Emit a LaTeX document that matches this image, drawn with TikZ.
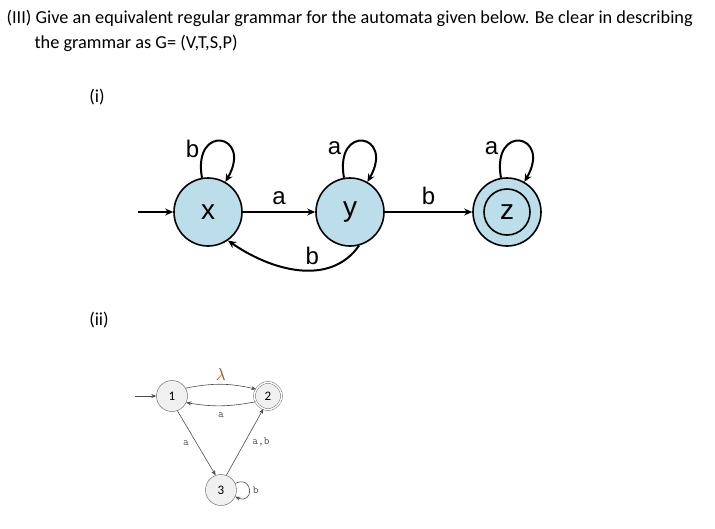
\documentclass[tikz,border=0pt]{standalone}
\usepackage{fontspec}
\setmainfont{Carlito}
\newfontfamily\arialf{Liberation Sans}
\usetikzlibrary{arrows.meta}
\begin{document}
\begin{tikzpicture}[x=1pt,y=-1pt,
  bignode/.style={circle,draw,line width=1.6pt,fill=cyan!25!white!85!gray,minimum size=68pt,inner sep=0,font=\arialf\fontsize{28}{28}\selectfont},
  bigedge/.style={-{Stealth[length=8pt,width=7pt]},line width=2pt},
  biglab/.style={font=\arialf\fontsize{24}{24}\selectfont},
  smnode/.style={circle,draw=gray!70!black,fill=gray!12,minimum size=31pt,inner sep=0pt,font=\fontsize{13}{13}\selectfont,text=black},
  smedge/.style={-{Stealth[length=5pt,width=4pt]},gray!60!black,line width=0.6pt},
  smlab/.style={font=\ttfamily\fontsize{11}{11}\selectfont}]
\useasboundingbox (0,0) rectangle (715,528);
\node[anchor=west,font=\fontsize{18.3}{20}\selectfont] (t1) at (3,18) {(III) Give an equivalent regular grammar for the automata given below. Be clear in describing};
\node[anchor=west,font=\fontsize{18.3}{20}\selectfont] (t2) at (31,43) {the grammar as G= (V,T,S,P)};
\node[font=\fontsize{18.3}{20}\selectfont] (l1) at (97,97) {(i)};
\node[font=\fontsize{18.3}{20}\selectfont] (l2) at (99,320) {(ii)};

\node[bignode] (x) at (208,212) {x};
\node[bignode] (y) at (350,212) {y};
\node[bignode] (z) at (507,212) {};
\node[circle,draw,line width=1.6pt,minimum size=46pt,inner sep=0,font=\arialf\fontsize{28}{28}\selectfont] (zi) at (z) {z};
\coordinate (s) at (138,212);
\draw[bigedge] (s) -- (x);
\draw[bigedge] (x) -- node[biglab,above=3pt]{a} (y);
\draw[bigedge] (y) -- node[biglab,above=3pt]{b} (z);
\draw[bigedge] (y.285) to[out=235,in=-35] node[biglab,above=1pt,pos=0.4]{b} (x.305);
\draw[bigedge] (x.100) to[out=100,in=60,looseness=6] node[biglab,left=2pt,pos=0.25]{b} (x.60);
\draw[bigedge] (y.100) to[out=100,in=60,looseness=6] node[biglab,left=2pt,pos=0.25]{a} (y.60);
\draw[bigedge] (z.100) to[out=100,in=60,looseness=6] node[biglab,left=2pt,pos=0.25]{a} (z.60);

\node[smnode] (n1) at (172,396) {1};
\node[smnode,double,double distance=1.5pt,minimum size=27pt] (n2) at (268,396) {2};
\node[smnode] (n3) at (221,490) {3};
\coordinate (s2) at (135,396);
\draw[smedge] (s2) -- (n1);
\draw[smedge] (n1.30) to[bend left=12] node[above=0pt,font=\fontsize{18}{18}\selectfont,text=orange!60!black]{$\lambda$} (n2.150);
\draw[smedge] (n2.205) to[bend left=10] node[smlab,below=3pt]{a} (n1.335);
\draw[smedge] (n1.290) -- node[smlab,left=4pt]{a} (n3.110);
\draw[smedge] (n3.70) -- node[smlab,right=4pt]{a,b} (n2.250);
\draw[smedge] (n3.25) to[out=25,in=-25,looseness=4] node[smlab,right]{b} (n3.-25);
\end{tikzpicture}
\end{document}
